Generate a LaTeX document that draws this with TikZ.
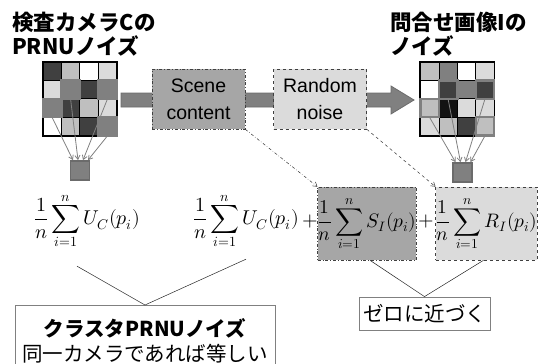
\documentclass[tikz,border=0pt]{standalone}
\usepackage{fontspec}
\usepackage{unicode-math}
\setmainfont{Liberation Sans}
\setmathfont{Latin Modern Math}
\newfontfamily\jp{Noto Sans CJK JP}
\usetikzlibrary{arrows.meta}

\definecolor{c10}{gray}{0.07}
\definecolor{c40}{gray}{0.25}
\definecolor{c80}{gray}{0.50}
\definecolor{cA5}{gray}{0.65}
\definecolor{cC0}{gray}{0.75}
\definecolor{cD9}{gray}{0.86}
\definecolor{edge}{gray}{0.42}

\tikzset{
  cell/.style={draw=black, line width=0.7pt, minimum size=18.4pt, inner sep=0pt},
  hl/.style={draw=c80, line width=2.4pt, minimum size=18.4pt, inner sep=0pt},
  gridframe/.style={draw=black, line width=1.6pt},
  pix/.style={draw=edge, fill=c80, line width=1.8pt, minimum size=19pt, inner sep=0pt},
  garrow/.style={draw=c80, line width=0.8pt, -{Straight Barb[length=4pt,width=5pt]}},
  title/.style={font=\jp\bfseries\fontsize{21.5}{24}\selectfont, anchor=west, inner sep=0pt},
  stagebox/.style={line width=0.6pt, minimum width=93pt, minimum height=60pt,
     align=center, font=\fontsize{19.5}{27}\selectfont, inner sep=0pt},
  mathtxt/.style={font=\fontsize{20}{24}\selectfont, inner sep=0pt},
  termbox/.style={line width=0.6pt, minimum height=73pt, inner sep=0pt,
     font=\fontsize{19.5}{24}\selectfont},
  dcon/.style={draw=black!80, line width=0.5pt, -{Straight Barb[length=4pt,width=5pt]}},
  thin line/.style={draw=black!85, line width=0.5pt},
  labelbox/.style={draw=c80, line width=0.8pt, fill=white, align=center,
     font=\jp\fontsize{20.5}{25}\selectfont, inner sep=0pt},
}

\begin{document}
\begin{tikzpicture}[x=1pt, y=-1pt]
\useasboundingbox (0,0) rectangle (538,364);

% ---- titles ----
\node[title] (tl1) at (12,22) {検査カメラCの};
\node[title] (tl2) at (12,46) {PRNUノイズ};
\node[title] (tr1) at (390,22) {問合せ画像Iの};
\node[title] (tr2) at (390,46) {ノイズ};

% ---- big process arrow ----
\draw[fill=c80, draw=edge, line width=0.8pt]
  (121,93) -- (391,93) -- (391,86) -- (414,100) -- (391,114) -- (391,107) -- (121,107) -- cycle;

% ---- left noise grid ----
\foreach \s [count=\k from 0] in {c40,cC0,white,cD9, cD9,c80,c40,c80, c80,c40,cC0,cD9, white,cC0,c40,c80} {
  \pgfmathtruncatemacro\r{div(\k,4)+1}
  \pgfmathtruncatemacro\c{mod(\k,4)+1}
  \node[cell, fill=\s] (L\r\c) at ({43+18.4*(\c-0.5)}, {62+18.4*(\r-0.5)}) {};
}
\draw[gridframe] (L11.north west) rectangle (L44.south east);
\foreach \n in {22,24,31,44} \node[hl] (Lh\n) at (L\n) {};
\node[pix] (Lsq) at (80,170.5) {};
\draw[garrow] (L31.south) -- ([xshift=-7pt]Lsq.north);
\draw[garrow] (L22.south) -- ([xshift=-2pt]Lsq.north);
\draw[garrow] (L24.south) -- ([xshift=3pt]Lsq.north);
\draw[garrow] (L44.south) -- ([xshift=8pt]Lsq.north);

% ---- right noise grid ----
\foreach \s [count=\k from 0] in {cC0,c80,white,cD9, white,c40,c80,c40, cC0,c10,cD9,cD9, cD9,cC0,c40,cC0} {
  \pgfmathtruncatemacro\r{div(\k,4)+1}
  \pgfmathtruncatemacro\c{mod(\k,4)+1}
  \node[cell, fill=\s] (R\r\c) at ({420.5+18.4*(\c-0.5)}, {62+18.4*(\r-0.5)}) {};
}
\draw[gridframe] (R11.north west) rectangle (R44.south east);
\foreach \n in {22,24,31,44} \node[hl] (Rh\n) at (R\n) {};
\node[pix] (Rsq) at (462.5,172.5) {};
\draw[garrow] (R31.south) -- ([xshift=-7pt]Rsq.north);
\draw[garrow] (R22.south) -- ([xshift=-2pt]Rsq.north);
\draw[garrow] (R24.south) -- ([xshift=3pt]Rsq.north);
\draw[garrow] (R44.south) -- ([xshift=8pt]Rsq.north);

% ---- stages on the arrow ----
\node[stagebox, draw=black!75, dash dot, fill=cA5] (scene) at (198.5,99) {Scene\\content};
\node[stagebox, draw=black!75, dashed, fill=cD9] (noise) at (320,99) {Random\\noise};

% ---- averaged noise terms ----
\node[mathtxt] (f1) at (87,221) {$\displaystyle\frac{1}{n}\sum_{i=1}^{n}U_C(p_i)$};
\node[mathtxt] (f2) at (246,221) {$\displaystyle\frac{1}{n}\sum_{i=1}^{n}U_C(p_i)$};
\node[mathtxt] (plus1) at (310,221) {$+$};
\node[termbox, draw=black!75, dash dot, fill=cA5, minimum width=96pt] (sI) at (367,223.5)
  {$\displaystyle\frac{1}{n}\sum_{i=1}^{n}S_I(p_i)$};
\node[mathtxt] (plus2) at (426,221) {$+$};
\node[termbox, draw=black!75, dashed, fill=cD9, minimum width=101pt] (rI) at (486.5,223.5)
  {$\displaystyle\frac{1}{n}\sum_{i=1}^{n}R_I(p_i)$};

\draw[dcon, dash dot] (scene.south east) -- (sI.north west);
\draw[dcon, dashed] (noise.south east) -- (rI.north west);

% ---- conclusions ----
\node[labelbox, minimum width=260pt, minimum height=71pt, anchor=north] (cluster) at (145,305)
  {{\bfseries クラスタPRNUノイズ}\\同一カメラであれば等しい};
\node[labelbox, minimum width=131pt, minimum height=33pt] (zero) at (424.5,313.5) {ゼロに近づく};

\draw[thin line] ([xshift=-10pt,yshift=-17pt]f1.south) -- (cluster.north) -- ([yshift=-10pt]f2.south);
\draw[thin line] ([xshift=3pt]sI.south) -- (zero.north) -- ([xshift=-3pt]rI.south);
\end{tikzpicture}
\end{document}
